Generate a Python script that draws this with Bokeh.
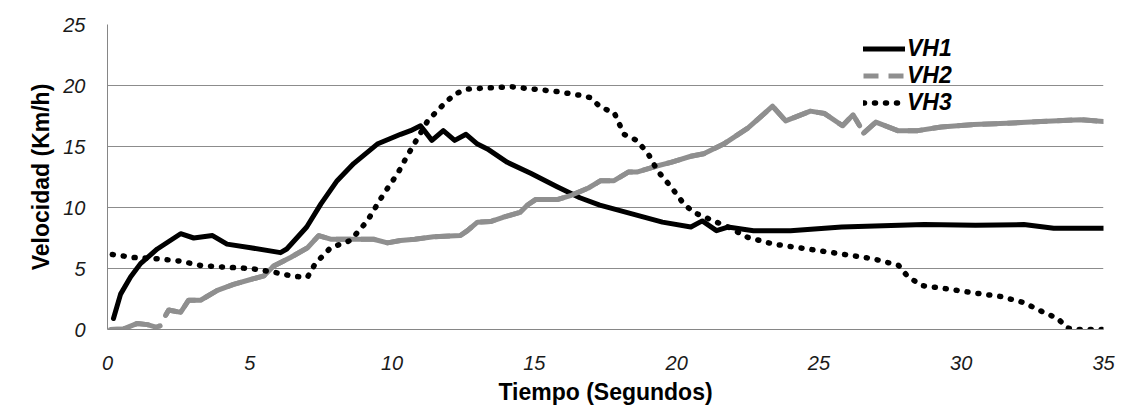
from bokeh.plotting import figure
from bokeh.models import Range1d, Legend, LegendItem, FixedTicker
from bokeh.embed import file_html
from bokeh.resources import INLINE

nan = float("nan")

vh1_x = [0.21, 0.46, 0.81, 1.16, 1.75, 2.57, 3.03, 3.69, 4.2, 5.03, 6.08, 6.3, 7.0, 7.5, 8.07,
         8.65, 9.48, 10.3, 10.65, 11.0, 11.4, 11.8, 12.2, 12.6, 13.0, 13.35, 14.05, 14.87, 15.8,
         16.6, 17.3, 18.4, 19.5, 20.5, 20.9, 21.4, 21.8, 22.7, 24.0, 25.8, 28.7, 30.5, 32.2,
         33.25, 35.0]
vh1_y = [0.9, 2.9, 4.3, 5.4, 6.6, 7.85, 7.5, 7.7, 7.0, 6.7, 6.3, 6.6, 8.4, 10.3, 12.2,
         13.6, 15.2, 16.0, 16.3, 16.7, 15.5, 16.3, 15.5, 16.0, 15.2, 14.8, 13.7, 12.8, 11.7,
         10.8, 10.2, 9.5, 8.8, 8.4, 8.9, 8.1, 8.4, 8.1, 8.1, 8.4, 8.6, 8.55, 8.6,
         8.3, 8.3]

vh2_x = [0.1, 0.57, 1.05, 1.4, 1.7, 1.85, nan, 2.04, 2.15, 2.57, 2.85, 3.27, 3.86, 4.43, 5.03,
         5.5, 5.84, 6.43, 7.03, 7.42, 7.84, 8.54, 9.35, 9.84, 10.3, 10.8, 11.46, 12.4, 12.65,
         13.0, 13.46, 13.9, 14.5, 14.76, 15.04, 15.8, 16.3, 16.9, 17.33, 17.8, 18.3, 18.6,
         19.3, 19.8, 20.5, 20.95, 21.65, 22.5, 23.37, 23.83, 24.7, 25.2, 25.83, 26.2, 26.43,
         nan, 26.57, 27.0, 27.77, 28.47, 29.3, 30.44, 31.6, 32.8, 34.2, 35.0]
vh2_y = [0.0, 0.05, 0.5, 0.4, 0.2, 0.3, nan, 1.15, 1.6, 1.4, 2.4, 2.4, 3.2, 3.7, 4.1,
         4.4, 5.2, 5.9, 6.7, 7.7, 7.4, 7.4, 7.4, 7.1, 7.3, 7.4, 7.6, 7.7, 8.1,
         8.8, 8.85, 9.2, 9.6, 10.2, 10.65, 10.65, 11.0, 11.6, 12.2, 12.2, 12.9, 12.9,
         13.4, 13.7, 14.2, 14.4, 15.2, 16.5, 18.3, 17.1, 17.9, 17.7, 16.7, 17.6, 16.7,
         nan, 16.1, 17.0, 16.3, 16.3, 16.6, 16.8, 16.9, 17.05, 17.2, 17.05]

vh3_x = [0.17, 0.93, 1.75, 2.57, 3.27, 4.2, 5.03, 5.84, 6.55, 7.03, 7.3, 7.84, 8.54, 9.13,
         9.7, 10.2, 10.5, 11.25, 11.7, 12.2, 12.65, 13.35, 14.17, 14.97, 15.8, 16.6, 16.98,
         17.33, 17.8, 18.15, 18.6, 19.0, 19.33, 19.8, 20.25, 20.6, 21.1, 21.8, 22.5, 23.4,
         24.6, 25.76, 26.9, 27.4, 27.8, 28.1, 28.6, 29.3, 30.44, 31.4, 32.2, 32.9, 33.4,
         33.7, 33.95, 35.0]
vh3_y = [6.15, 5.9, 5.8, 5.6, 5.25, 5.1, 5.0, 4.7, 4.35, 4.3, 5.4, 6.7, 7.3, 8.9,
         11.1, 12.8, 14.1, 17.1, 18.2, 19.3, 19.7, 19.8, 19.9, 19.7, 19.5, 19.2, 19.0,
         18.2, 17.8, 16.0, 15.5, 14.4, 13.0, 11.7, 10.3, 9.6, 9.1, 8.4, 7.55, 7.0,
         6.6, 6.2, 5.8, 5.5, 5.25, 4.4, 3.6, 3.4, 3.0, 2.7, 2.2, 1.4, 0.9,
         0.15, 0.0, 0.0]

y_ticks = [0, 5, 10, 15, 20, 25]
x_ticks = [0, 5, 10, 15, 20, 25, 30, 35]
labels = ["VH1", "VH2", "VH3"]

FONT = "Liberation Sans"
GRID = "#8c8c8c"
GREY_LINE = "#8f8f8f"

p = figure(width=1124, height=409, output_backend="svg", toolbar_location=None,
           x_range=Range1d(0, 35), y_range=Range1d(0, 25),
           min_border_left=107, min_border_right=21, min_border_top=24, min_border_bottom=80)
p.outline_line_color = None
p.background_fill_color = "white"
p.border_fill_color = "white"

# legend proxy for VH2 (dashed), hidden beneath the solid VH2 line
r2_leg = p.line(vh2_x, vh2_y, line_color=GREY_LINE, line_width=5, line_dash="15 10",
                line_cap="butt")
r1 = p.line(vh1_x, vh1_y, line_color="black", line_width=5, line_join="round", line_cap="round")
r2 = p.line(vh2_x, vh2_y, line_color=GREY_LINE, line_width=5, line_join="round", line_cap="round")
r3 = p.line(vh3_x, vh3_y, line_color="black", line_width=5.5, line_dash="1 10",
            line_cap="round", line_join="round")

p.xgrid.grid_line_color = None
p.ygrid.grid_line_color = GRID
p.ygrid.grid_line_width = 1
p.ygrid.ticker = FixedTicker(ticks=y_ticks)

for ax in (p.xaxis[0], p.yaxis[0]):
    ax.axis_line_color = "#868686"
    ax.axis_line_width = 1
    ax.major_tick_line_color = None
    ax.minor_tick_line_color = None
    ax.major_tick_in = 0
    ax.major_tick_out = 0
    ax.major_label_text_font = FONT
    ax.major_label_text_font_style = "italic"
    ax.major_label_text_font_size = "20px"
    ax.major_label_text_color = "#1a1a1a"
    ax.axis_label_text_font = FONT
    ax.axis_label_text_font_style = "bold"
    ax.axis_label_text_font_size = "23px"
    ax.axis_label_text_color = "black"

p.xaxis[0].ticker = FixedTicker(ticks=x_ticks)
p.yaxis[0].ticker = FixedTicker(ticks=y_ticks)
p.xaxis[0].axis_label = "Tiempo (Segundos)"
p.yaxis[0].axis_label = "Velocidad (Km/h)"
p.xaxis[0].major_label_standoff = 26
p.xaxis[0].axis_label_standoff = 6
p.yaxis[0].major_label_standoff = 22
p.yaxis[0].axis_label_standoff = 6

legend = Legend(items=[LegendItem(label=labels[0], renderers=[r1]),
                       LegendItem(label=labels[1], renderers=[r2_leg]),
                       LegendItem(label=labels[2], renderers=[r3])],
                location=(756, 213), padding=0, margin=0, spacing=0,
                glyph_width=42, glyph_height=25, label_height=25, label_standoff=2,
                border_line_color=None, background_fill_alpha=0,
                label_text_font=FONT, label_text_font_style="bold italic",
                label_text_font_size="23px", label_text_color="black")
p.add_layout(legend)

open("out.html", "w").write(file_html(p, INLINE))
